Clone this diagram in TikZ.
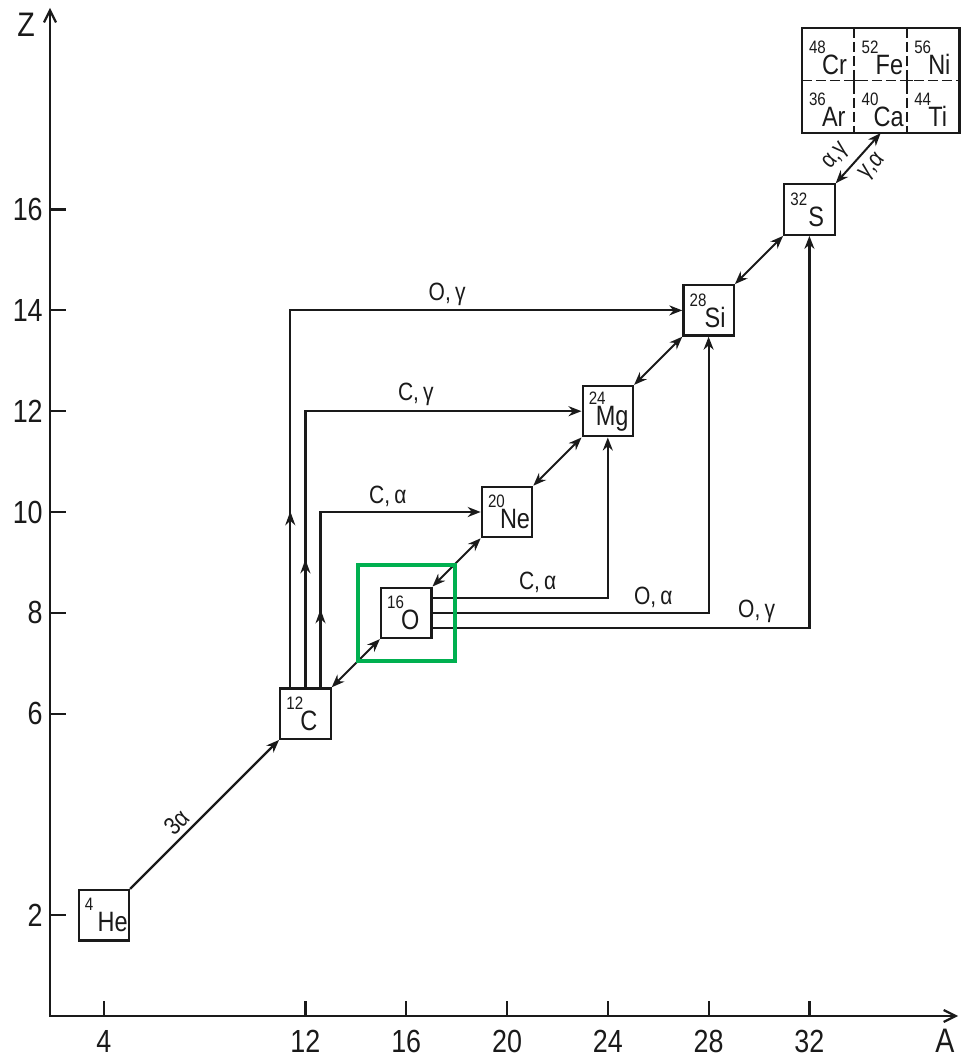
\documentclass[tikz,border=0pt]{standalone}
\usepackage{fontspec}
\setmainfont{Liberation Sans}[FakeStretch=0.84]
\usepackage{tikz}
\usetikzlibrary{arrows.meta,positioning,fit,calc,decorations.markings}
\definecolor{ink}{HTML}{1A1A1A}
\definecolor{hlgrn}{HTML}{00B050}
\newcommand{\massfont}{\fontsize{9pt}{10pt}\selectfont}
\newcommand{\symfont}{\fontsize{14pt}{16pt}\selectfont}
\newcommand{\iso}[3][7pt]{\makebox[19pt][l]{\rlap{\raisebox{10.5pt}{\massfont #2}}\hspace{#1}#3}}
\tikzset{
  nuc/.style     ={draw=ink, line width=1.1pt, inner sep=0pt, minimum width=25.2pt,
                   minimum height=25.2pt, font=\symfont, text=ink},
  cell/.style    ={nuc, draw=none, text height=22.7pt, text depth=2.5pt},
  lbl/.style     ={font=\fontsize{12.5pt}{14pt}\selectfont, text=ink, inner sep=2pt},
  tlbl/.style    ={font=\fontsize{16pt}{18pt}\selectfont, text=ink, inner sep=0pt},
  axisline/.style={{Straight Barb[length=6pt,width=6pt]}-{Straight Barb[length=6pt,width=6pt]},
                   line width=1.1pt, draw=ink},
  tickmk/.style  ={line width=1.1pt, draw=ink},
  flow/.style    ={-{Stealth[length=6.5pt,width=5pt]}, line width=1.1pt, draw=ink},
  flowt/.style   ={{Stealth[length=6.5pt,width=5pt]}-{Stealth[length=6.5pt,width=5pt]},
                   line width=1pt, draw=ink},
  midtip/.style  ={postaction={decorate}, decoration={markings,
                   mark=at position #1 with {\arrow[ink]{Stealth[length=7pt,width=5pt]}}}},
  divider/.style ={draw=ink, line width=.9pt, dash pattern=on 5pt off 2pt},
  hl/.style      ={draw=hlgrn, line width=2pt, inner sep=11pt},
}

\begin{document}
\begin{tikzpicture}[x=12.6pt, y=25.2pt, node distance=0pt]
  \useasboundingbox (-0.119,-0.853) rectangle (38.175,20.159);
  % axes
  \coordinate (orig) at (1.865,0);
  \coordinate (aend) at (37.9,0);
  \coordinate (zend) at (1.865,20);
  \draw[axisline] (aend) -- (orig) -- (zend);
  \foreach \a in {4,12,16,20,24,28,32}{
    \draw[tickmk] (\a,0) -- ++(0,0.3);
    \node[tlbl] (ta\a) at (\a,-0.5) {\a};
  }
  \foreach \z in {2,6,8,10,12,14,16}{
    \draw[tickmk] (orig |- 0,\z) -- ++(0.635,0);
    \node[tlbl, anchor=east] (tz\z) at (1.59,\z) {\z};
  }
  \node[tlbl, font=\fontsize{17pt}{18pt}\selectfont] (zlab) at (0.913,19.66) {Z};
  \node[tlbl, font=\fontsize{17pt}{18pt}\selectfont] (alab) at (37.38,-0.5) {A};
  % nuclei
  \node[nuc] (He) at (4,2)   {\iso[6.4pt]{4}{He}};
  \node[nuc] (C)  at (12,6)  {\iso{12}{C}};
  \node[nuc] (O)  at (16,8)  {\iso{16}{O}};
  \node[nuc] (Ne) at (20,10) {\iso[6pt]{20}{Ne}};
  \node[nuc] (Mg) at (24,12) {\iso[3.5pt]{24}{Mg}};
  \node[nuc] (Si) at (28,14) {\iso[7.5pt]{28}{Si}};
  \node[nuc] (S)  at (32,16) {\iso[9pt]{32}{S}};
  % iron group
  \node[cell] (Ar) at (32.74,18.04) {\iso[6.5pt]{36}{Ar}};
  \node[cell, right=of Ar] (Ca) {\iso[6pt]{40}{Ca}};
  \node[cell, right=of Ca] (Ti) {\iso[7pt]{44}{Ti}};
  \node[cell, above=of Ar] (Cr) {\iso[6.5pt]{48}{Cr}};
  \node[cell, above=of Ca] (Fe) {\iso[7pt]{52}{Fe}};
  \node[cell, above=of Ti] (Ni) {\iso[7pt]{56}{Ni}};
  \node[draw=ink, line width=1.1pt, inner sep=0pt, fit=(Cr)(Ti)] (heavy) {};
  \draw[divider] (Cr.north east) -- (Ar.south east);
  \draw[divider] (Fe.north east) -- (Ca.south east);
  \draw[divider] (Ar.north west) -- (Ti.north east);
  \foreach \n in {Ar,Ca}
    \draw[line width=.9pt, draw=ink] (\n.north east) +(-3pt,0) -- +(3pt,0) +(0,-3pt) -- +(0,3pt);
  % burning chain
  \draw[flow] (He.north east) -- (C.south west) node[lbl, pos=.38, above, sloped] (l3a) {3α};
  \draw[flowt] (C.north east) -- (O.south west);
  \draw[flowt] (O.north east) -- (Ne.south west);
  \draw[flowt] (Ne.north east) -- (Mg.south west);
  \draw[flowt] (Mg.north east) -- (Si.south west);
  \draw[flowt] (Si.north east) -- (S.south west);
  \draw[flowt] (S.north east) -- (Ca.south)
    node[lbl, pos=.3, above, sloped, inner sep=3.5pt, font=\fontsize{12pt}{14pt}\selectfont] (lag) {α,γ}
    node[lbl, pos=.55, below, sloped, inner sep=3.5pt, font=\fontsize{12pt}{14pt}\selectfont] (lga) {γ,α};
  % carbon burning
  \draw[flow, midtip=39pt] ($(C.north)+(0.6,0)$) |- (Ne) node[lbl, pos=.71, above] (lca) {C,\,α};
  \draw[flow, midtip=64pt] (C.north) |- (Mg) node[lbl, pos=.70, above] (lcg) {C,\,γ};
  \draw[flow, midtip=88pt] ($(C.north)+(-0.6,0)$) |- (Si) node[lbl, pos=.70, above] (log) {O,\,γ};
  % oxygen burning
  \draw[flow] ($(O.east)+(0,0.3)$) -| (Mg) node[lbl, pos=.3, above] (oca) {C,\,α};
  \draw[flow] (O.east) -| (Si) node[lbl, pos=.4, above] (ooa) {O,\,α};
  \draw[flow] ($(O.east)+(0,-0.3)$) -| (S) node[lbl, pos=.43, above] (oog) {O,\,γ};
  \node[hl, fit=(O)] (focus) {};
\end{tikzpicture}
\end{document}
